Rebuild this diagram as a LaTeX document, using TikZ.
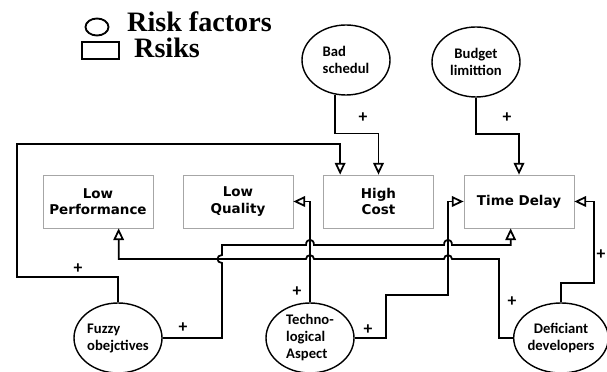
\documentclass[tikz,border=0pt]{standalone}
\usepackage{fontspec}
\usepackage{tikz}
\usetikzlibrary{arrows.meta,shapes.geometric,calc}
\newfontfamily\legendfont{Liberation Serif}
\newfontfamily\riskfont{DejaVu Sans}
\newfontfamily\factorfont{Carlito}
\tikzset{
    risk/.style={rectangle, draw=gray!70, line width=0.6pt, minimum width=3.3cm, minimum height=1.59cm, align=center, font=\riskfont\bfseries\fontsize{11.5}{14}\selectfont},
    factor/.style={ellipse, draw, line width=1.2pt, minimum width=2.64cm, minimum height=2.1cm, inner sep=0pt, font=\factorfont\bfseries\fontsize{12.5}{14.5}\selectfont},
    link/.style={line width=1.5pt, -{Triangle[open, length=10pt, width=9pt]}},
    plus/.style={inner sep=0pt, font=\factorfont\bfseries\fontsize{15}{15}\selectfont},
    legend/.style={inner sep=0pt, font=\legendfont\bfseries\fontsize{24}{24}\selectfont},
    keycircle/.style={ellipse, draw, line width=1.6pt, minimum width=0.69cm, minimum height=0.51cm, inner sep=0pt},
    keybox/.style={rectangle, draw, line width=2pt, minimum width=1.11cm, minimum height=0.51cm, inner sep=0pt}
}
\begin{document}
\begin{tikzpicture}[x=0.03cm, y=-0.03cm]
    \useasboundingbox (0,0) rectangle (607,372);
    % legend
    \node[keycircle] (keyf) at (97,27) {};
    \node[legend, anchor=base west] (keyftext) at (127,32) {Risk factors};
    \node[keybox] (keyr) at (100.5,50.5) {};
    \node[legend, anchor=base west] (keyrtext) at (134,58) {Rsiks};
    % risks
    \node[risk] (lp) at (98,201.5) {Low\\Performance};
    \node[risk] (lq) at (238,201.5) {Low\\Quality};
    \node[risk] (hc) at (378.5,201.5) {High\\Cost};
    \node[risk] (td) at (519,201.5) {Time Delay};
    % risk factors
    \node[factor, align=left] (bs) at (346,60) {Bad\\schedul};
    \node[factor, align=center] (bl) at (476,62) {Budget\\limittion};
    \node[factor, align=left] (fz) at (118,338) {Fuzzy\\obejctives};
    \node[factor, align=left] (ta) at (310,338) {Techno-\\logical\\Aspect};
    \node[factor, align=center] (dd) at (561,338) {Deficiant\\developers};
    % links
    \draw[link] (bs.252) -- ++(0,39) -| (hc.north);
    \draw[link] (bl.south) -- ++(0,36) -| (td.north);
    \draw[link] (fz.north) -- ++(0,-25) -| (17,144) -| ($(hc.north west)+(17,0)$);
    \draw[link] (fz.east) -| (222,263) .. controls (216,263) and (216,255) .. (222,255) |- (306,245)
        .. controls (306,238) and (314,238) .. (314,245) -- (444,245)
        .. controls (444,238) and (452,238) .. (452,245) -| ($(td.south west)+(47,0)$);
    \draw[link] (ta.north) |- (lq.east);
    \draw[link] (ta.east) -- ++(31,0) |- (448,295) |- (td.west);
    \draw[link] (dd.west) -- ++(-14,0) |- (452,259) .. controls (452,254) and (444,254) .. (444,259)
        -- (314,259) .. controls (314,254) and (306,254) .. (306,259) -| ($(lp.south west)+(76,0)$);
    \draw[link] (dd.north) -- ++(0,-19) -- ++(33,0) |- (td.east);
    % signs
    \node[plus] (p1) at (78,269) {+};
    \node[plus] (p2) at (183,328) {+};
    \node[plus] (p3) at (363,118) {+};
    \node[plus] (p4) at (507,118) {+};
    \node[plus] (p5) at (297,292) {+};
    \node[plus] (p6) at (368,330) {+};
    \node[plus] (p7) at (512,302) {+};
    \node[plus] (p8) at (601,255) {+};
\end{tikzpicture}
\end{document}
